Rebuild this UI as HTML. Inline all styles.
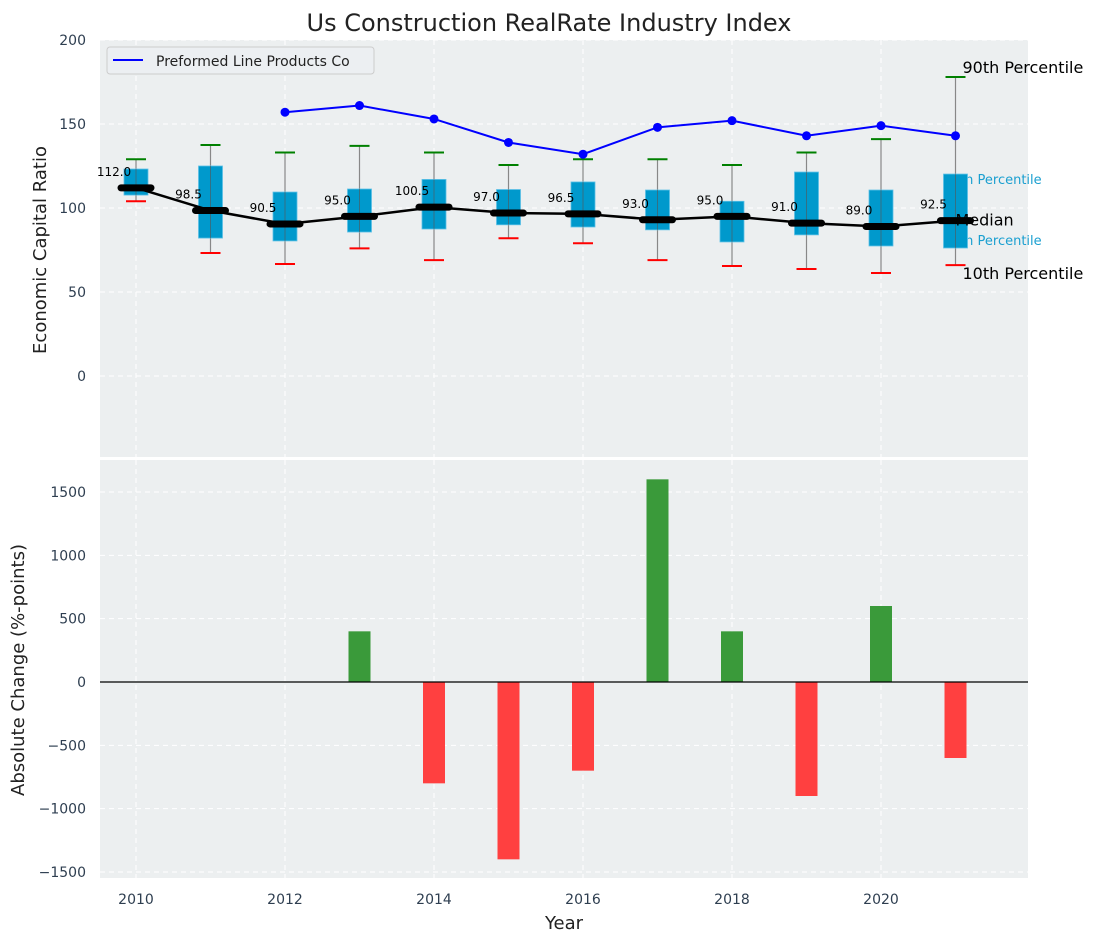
<!DOCTYPE html>
<html><head><meta charset="utf-8"><style>
body{margin:0;background:#fff;}
svg text{font-family:"DejaVu Sans","Liberation Sans",sans-serif;}
</style></head><body>
<svg id="c" width="1098" height="942" xmlns="http://www.w3.org/2000/svg"></svg>
<script>
const years=[2010,2011,2012,2013,2014,2015,2016,2017,2018,2019,2020,2021];
const medians=[112.0,98.5,90.5,95.0,100.5,97.0,96.5,93.0,95.0,91.0,89.0,92.5];
const q1=[107.7,82.1,80.4,85.7,87.5,90,88.7,87,79.8,84,77.4,76.2];
const q3=[123.2,125,109.5,111.3,117,111,115.5,110.7,104,121.4,110.7,120.2];
const p10=[104,73.2,66.7,76,69,82,79,69,65.5,63.7,61.3,66];
const p90=[129,137.5,133,137,133,125.6,129,129,125.6,133,141,178];
const companyYears=[2012,2013,2014,2015,2016,2017,2018,2019,2020,2021];
const companyVals=[157,161,153,139,132,148,152,143,149,143];
const changeYears=[2013,2014,2015,2016,2017,2018,2019,2020,2021];
const changes=[400,-800,-1400,-700,1600,400,-900,600,-600];
const topTicks=[0,50,100,150,200];
const botTicks=[-1500,-1000,-500,0,500,1000,1500];
const xTicks=[2010,2012,2014,2016,2018,2020];

const L=100,R=1028,T1=40,B1=457,T2=460,B2=878;
const X=v=>136+(v-2010)*74.5;
const Y1=v=>376-v*1.68;
const Y2=v=>682-v*(190/1500);
const svg=document.getElementById('c');
const NS='http://www.w3.org/2000/svg';
function el(t,a,txt){const e=document.createElementNS(NS,t);for(const k in a)e.setAttribute(k,a[k]);if(txt!==undefined)e.textContent=txt;svg.appendChild(e);return e;}

let e=el('rect',{x:L,y:T1,width:R-L,height:B1-T1,fill:'#eceff0'});

e=el('rect',{x:L,y:T2,width:R-L,height:B2-T2,fill:'#eceff0'});

xTicks.forEach(v=>{[[T1,B1],[T2,B2]].forEach(([a,b])=>{el('line',{x1:X(v),x2:X(v),y1:a,y2:b,stroke:'#fff','stroke-dasharray':'5,4','stroke-width':1});});});
topTicks.forEach(v=>{el('line',{x1:L,x2:R,y1:Y1(v),y2:Y1(v),stroke:'#fff','stroke-dasharray':'5,4'});
 e=el('text',{x:86,y:Y1(v)+5,'text-anchor':'end','font-size':14,fill:'#2e3e50'},v);
 });
botTicks.forEach(v=>{el('line',{x1:L,x2:R,y1:Y2(v),y2:Y2(v),stroke:'#fff','stroke-dasharray':'5,4'});
 e=el('text',{x:86,y:Y2(v)+5,'text-anchor':'end','font-size':14,fill:'#2e3e50'},v<0?'−'+(-v):v);
 });
xTicks.forEach(v=>{e=el('text',{x:X(v),y:904,'text-anchor':'middle','font-size':14,fill:'#2e3e50'},v);
 });

const lx=X(2021);
e=el('text',{x:lx+7,y:Y1(178)-4,'font-size':16,fill:'#000'},'90th Percentile');
e=el('text',{x:lx-12,y:Y1(q3[11])+10,'font-size':13,fill:'#1a9fd0'},'75th Percentile');
e=el('text',{x:lx-12,y:Y1(q1[11])-3,'font-size':13,fill:'#1a9fd0'},'25th Percentile');

years.forEach((y,i)=>{const x=X(y);
 el('line',{x1:x,x2:x,y1:Y1(p10[i]),y2:Y1(p90[i]),stroke:'#888','stroke-width':1.2});
 e=el('rect',{x:x-12,y:Y1(q3[i]),width:24,height:Y1(q1[i])-Y1(q3[i]),fill:'#0099cc',stroke:'#5bc0e6','stroke-width':0.8});
 
 el('line',{x1:x,x2:x,y1:Y1(q3[i]),y2:Y1(q1[i]),stroke:'#555','stroke-width':1,opacity:0.6});
 el('line',{x1:x-10,x2:x+10,y1:Y1(p90[i]),y2:Y1(p90[i]),stroke:'green','stroke-width':2});
 el('line',{x1:x-10,x2:x+10,y1:Y1(p10[i]),y2:Y1(p10[i]),stroke:'red','stroke-width':2});
});
e=el('text',{x:lx+7,y:Y1(p10[11])+14,'font-size':16,fill:'#000'},'10th Percentile');
e=el('text',{x:lx,y:Y1(medians[11])+5,'font-size':16,fill:'#000'},'Median');
e=el('polyline',{points:years.map((y,i)=>X(y)+','+Y1(medians[i])).join(' '),fill:'none',stroke:'#000','stroke-width':2.5});

years.forEach((y,i)=>{const x=X(y);
 e=el('line',{x1:x-15,x2:x+15,y1:Y1(medians[i]),y2:Y1(medians[i]),stroke:'#000','stroke-width':7,'stroke-linecap':'round'});
 
 e=el('text',{x:x-22,y:Y1(medians[i])-12,'text-anchor':'middle','font-size':12,fill:'#000'},medians[i].toFixed(1));
 
});
e=el('polyline',{points:companyYears.map((y,i)=>X(y)+','+Y1(companyVals[i])).join(' '),fill:'none',stroke:'#0000ff','stroke-width':2});

companyYears.forEach((y,i)=>{e=el('circle',{cx:X(y),cy:Y1(companyVals[i]),r:4.5,fill:'#0000ff'});
 });

changeYears.forEach((y,i)=>{const v=changes[i];const a=Y2(Math.max(v,0)),b=Y2(Math.min(v,0));
 e=el('rect',{x:X(y)-11,y:a,width:22,height:b-a,fill:v>=0?'#3a9a3a':'#ff4040'});
 });
el('line',{x1:L,x2:R,y1:Y2(0),y2:Y2(0),stroke:'#000','stroke-width':1.2});

e=el('rect',{x:107,y:47,width:267,height:27,rx:3,fill:'#eceff2',stroke:'#ccc'});

el('line',{x1:113,x2:143,y1:60,y2:60,stroke:'#0000ff','stroke-width':2});
e=el('text',{x:156,y:66,'font-size':14,fill:'#222'},'Preformed Line Products Co');


e=el('text',{x:549,y:31,'text-anchor':'middle','font-size':24,fill:'#222'},'Us Construction RealRate Industry Index');

e=el('text',{x:564,y:929,'text-anchor':'middle','font-size':18,fill:'#222'},'Year');

e=el('text',{x:0,y:0,'text-anchor':'middle','font-size':18,fill:'#222',transform:'translate(46,250) rotate(-90)'},'Economic Capital Ratio');

e=el('text',{x:0,y:0,'text-anchor':'middle','font-size':18,fill:'#222',transform:'translate(24,670) rotate(-90)'},'Absolute Change (%-points)');

</script>
</body></html>
